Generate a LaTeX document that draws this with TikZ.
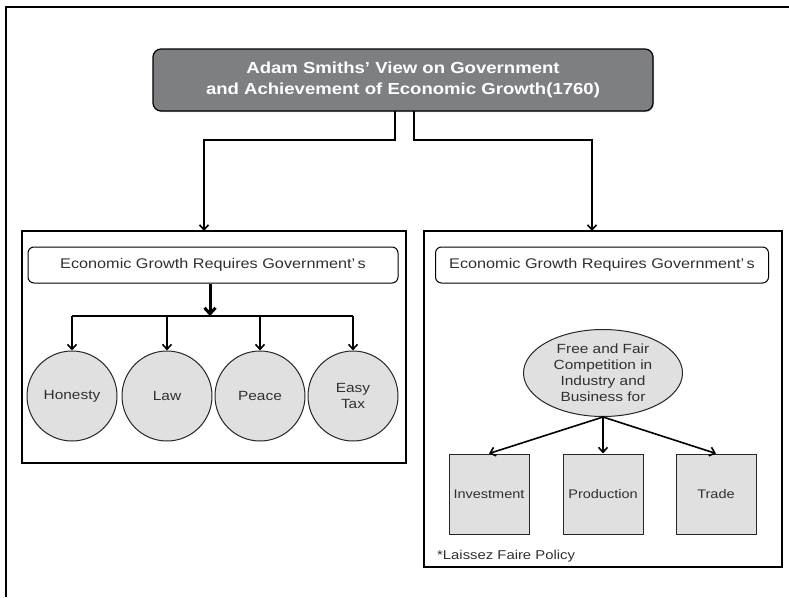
\documentclass[tikz,border=0pt]{standalone}
\usepackage{fontspec}
\setmainfont{Liberation Sans}[FakeStretch=1.16]
\usetikzlibrary{arrows.meta,shapes.geometric,shadows}
\definecolor{titlegray}{HTML}{7E7F82}
\definecolor{lightfill}{HTML}{E0E0E0}
\definecolor{txt}{HTML}{303030}
\tikzset{
  frame/.style={draw=black, line width=1.2pt},
  hdr/.style={draw=black, line width=1pt, rounded corners=6pt, minimum width=370pt, minimum height=36pt, font=\fontsize{14}{16}\selectfont, text=txt, inner sep=0pt},
  circ/.style={circle, draw=black!85, line width=1pt, fill=lightfill, minimum size=90pt, inner sep=0pt, font=\fontsize{13.3}{16}\selectfont, text=txt, align=center},
  sq/.style={draw=black!85, line width=1pt, fill=lightfill, minimum width=80pt, minimum height=80pt, inner sep=0pt, font=\fontsize{12.5}{15}\selectfont, text=txt},
  conn/.style={line width=1.6pt, -{Straight Barb[length=5pt,width=9pt]}},
  thick conn/.style={line width=3pt, -{Straight Barb[length=6pt,width=11pt]}},
}
\begin{document}
\begin{tikzpicture}[x=1pt,y=-1pt]
\useasboundingbox (0,0) rectangle (789,597);
\fill[white] (0,0) rectangle (789,597);
% outer frame (only left and top visible)
\draw[frame] (6,597) -- (6,7) -- (789,7);
% title
\node[draw=black, line width=1.2pt, rounded corners=8pt, fill=titlegray, drop shadow={shadow xshift=1pt, shadow yshift=-1pt, opacity=0.4},
      minimum width=500pt, minimum height=62pt, text=white, align=center,
      font=\bfseries\fontsize{16}{21}\selectfont] (title) at (403,80)
  {Adam Smiths' View on Government\\and Achievement of Economic Growth(1760)};
% panels
\node[frame, minimum width=384pt, minimum height=232pt, inner sep=0pt] (lbox) at (214,347) {};
\node[frame, minimum width=358pt, minimum height=336pt, inner sep=0pt] (rbox) at (603,399) {};
% connectors from title
\coordinate (tl) at (395,111);
\coordinate (tr) at (414,111);
\coordinate (lt) at (204,231);
\coordinate (rt) at (592,231);
\draw[conn] (tl) -- (395,140) -- (204,140) -- (lt);
\draw[conn] (tr) -- (414,140) -- (592,140) -- (rt);
% left panel
\node[hdr] (lh) at (213,265) {Economic Growth Requires Government'\,s};
\node[circ] (c1) at (72,396) {Honesty};
\node[circ] (c2) at (167,396) {Law};
\node[circ] (c3) at (260,396) {Peace};
\node[circ] (c4) at (353,396) {Easy\\Tax};
\coordinate (bj) at (210,316);
\draw[thick conn] (lh.south -| bj) -- (bj);
\draw[line width=2.4pt] (72,316) -- (353,316);
\draw[conn] (72,316) -- (c1.north);
\draw[conn] (167,316) -- (c2.north);
\draw[conn] (260,316) -- (c3.north);
\draw[conn] (353,316) -- (c4.north);
% right panel
\node[hdr, minimum width=333pt] (rh) at (602,265) {Economic Growth Requires Government'\,s};
\node[ellipse, draw=black!85, line width=1pt, fill=lightfill, minimum width=159pt, minimum height=87pt, inner sep=0pt,
      align=center, text=txt, font=\fontsize{13.3}{16}\selectfont] (ell) at (603,373)
  {Free and Fair\\Competition in\\Industry and\\Business for};
\node[sq] (s1) at (489,494) {Investment};
\node[sq] (s2) at (603,494) {Production};
\node[sq] (s3) at (716,494) {Trade};
\draw[conn] (ell.south) -- (s1.north);
\draw[conn] (ell.south) -- (s2.north);
\draw[conn] (ell.south) -- (s3.north);
\node[anchor=west, text=txt, font=\fontsize{12.8}{15}\selectfont, inner sep=0pt] (note) at (437,556) {*Laissez Faire Policy};
\end{tikzpicture}
\end{document}
